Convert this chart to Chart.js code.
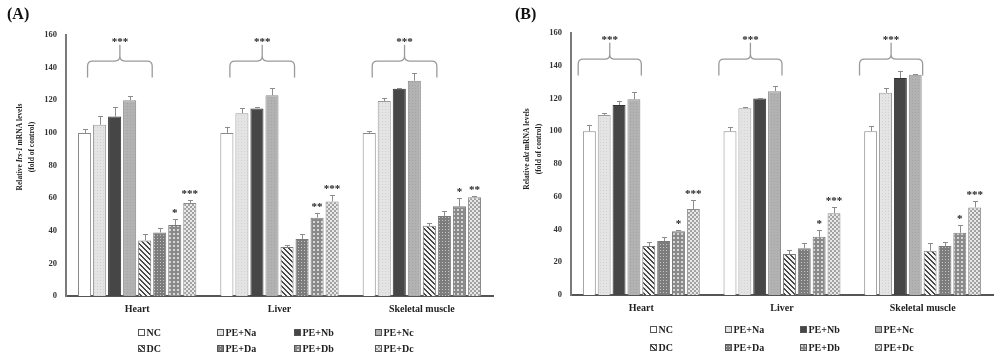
<!DOCTYPE html>
<html><head><meta charset="utf-8">
<script src="https://cdn.jsdelivr.net/npm/chart.js@4.4.1/dist/chart.umd.min.js"></script>
<style>
html,body{margin:0;padding:0;background:#fff;}
#wrap{position:relative;width:1000px;height:357px;overflow:hidden;}
.panel{position:absolute;top:0;width:500px;height:357px;}
</style></head><body>
<div id="wrap">
<div class="panel" style="left:0"><canvas id="cA"></canvas></div>
<div class="panel" style="left:500px"><canvas id="cB"></canvas></div>
</div>
<script>
// ---------- DATA ----------
const categories = ['Heart', 'Liver', 'Skeletal muscle'];
const seriesNames = ['NC', 'PE+Na', 'PE+Nb', 'PE+Nc', 'DC', 'PE+Da', 'PE+Db', 'PE+Dc'];
const yTickValues = [0, 20, 40, 60, 80, 100, 120, 140, 160];

// Panel A: Irs-1 (mean, upper error)
const irsNC = [100, 100, 100];      const irsNCerr = [2.5, 3.5, 1.0];
const irsNa = [105, 112, 119.5];    const irsNaErr = [5.5, 3.5, 1.8];
const irsNb = [110, 115, 127];      const irsNbErr = [6.0, 0.6, 0.7];
const irsNc = [120, 123, 132];      const irsNcErr = [2.7, 4.5, 4.6];
const irsDC = [34, 30, 43];         const irsDCerr = [4.0, 1.0, 1.6];
const irsDa = [39, 35, 49];         const irsDaErr = [2.5, 3.0, 3.3];
const irsDb = [43.5, 48, 55];       const irsDbErr = [4.0, 3.0, 5.3];
const irsDc = [57, 58, 60.5];       const irsDcErr = [2.0, 4.2, 0.7];
const irsDbStars = ['*', '**', '*'];
const irsDcStars = ['***', '***', '**'];
const irsGroupStars = ['***', '***', '***'];

// Panel B: akt (mean, upper error)
const aktNC = [100, 100, 100];      const aktNCerr = [4.0, 2.6, 3.5];
const aktNa = [110, 114, 123.5];    const aktNaErr = [1.2, 1.1, 3.1];
const aktNb = [116, 120, 132.5];    const aktNbErr = [2.6, 0.5, 4.3];
const aktNc = [119.5, 124.5, 134.5];const aktNcErr = [4.3, 3.1, 0.7];
const aktDC = [30, 25, 27];         const aktDCerr = [2.4, 2.2, 5.0];
const aktDa = [33, 28.5, 30];       const aktDaErr = [2.7, 3.0, 2.3];
const aktDb = [39, 35.5, 38];       const aktDbErr = [1.0, 4.2, 4.5];
const aktDc = [52.5, 50, 53.5];     const aktDcErr = [5.5, 3.5, 4.0];
const aktDbStars = ['*', '*', '*'];
const aktDcStars = ['***', '***', '***'];
const aktGroupStars = ['***', '***', '***'];

// ---------- STYLE ----------
const SERIF = '"Liberation Serif", "Times New Roman", serif';

function pat(w, h, draw) {
  const c = document.createElement('canvas');
  c.width = w; c.height = h;
  const g = c.getContext('2d');
  draw(g);
  return document.createElement('canvas').getContext('2d').createPattern(c, 'repeat');
}
const fills = [
  '#ffffff',
  pat(3, 3, g => { g.fillStyle = '#e4e4e4'; g.fillRect(0,0,3,3); g.fillStyle = '#d2d2d2'; g.fillRect(1,1,1,1); }),
  '#464646',
  pat(3, 3, g => { g.fillStyle = '#b2b2b2'; g.fillRect(0,0,3,3); g.fillStyle = '#a4a4a4'; g.fillRect(1,1,1,1); }),
  pat(5, 5, g => { g.fillStyle = '#f4f4f4'; g.fillRect(0,0,5,5); g.fillStyle = '#484848';
                   for (let i = 0; i < 5; i++) { g.fillRect(i, i, 1, 1); g.fillRect((i+1)%5, i, 1, 1); } }),
  pat(3, 3, g => { g.fillStyle = '#7c7c7c'; g.fillRect(0,0,3,3); g.fillStyle = '#c6c6c6'; g.fillRect(1,1,1,1); }),
  pat(4, 4, g => { g.fillStyle = '#8a8a8a'; g.fillRect(0,0,4,4); g.fillStyle = '#d6d6d6'; g.fillRect(1,1,2,2); }),
  pat(4, 4, g => { g.fillStyle = '#e8e8e8'; g.fillRect(0,0,4,4); g.fillStyle = '#a2a2a2'; g.fillRect(0,0,2,2); g.fillRect(2,2,2,2); })
];
const borders = ['#8a8a8a', '#9a9a9a', '#333333', '#8a8a8a', '#7a7a7a', '#7a7a7a', '#7a7a7a', '#8a8a8a'];

function makeChart(id, cfg) {
  const datasets = cfg.values.map((v, i) => ({
    label: seriesNames[i], data: v,
    backgroundColor: fills[i], borderColor: borders[i], borderWidth: 1,
    categoryPercentage: 0.845, barPercentage: 0.87
  }));
  const extras = {
    id: 'extras',
    afterDatasetsDraw(chart) {
      const ctx = chart.ctx, ys = chart.scales.y;
      ctx.save();
      chart.data.datasets.forEach((ds, di) => {
        const meta = chart.getDatasetMeta(di);
        meta.data.forEach((bar, i) => {
          const v = ds.data[i], e = cfg.errors[di][i];
          const yb = ys.getPixelForValue(v), yt = ys.getPixelForValue(v + e);
          const x = Math.round(bar.x) + 0.5;
          ctx.strokeStyle = '#8c8c8c'; ctx.lineWidth = 1;
          ctx.beginPath();
          ctx.moveTo(x, yb); ctx.lineTo(x, Math.round(yt) + 0.5);
          ctx.moveTo(x - 2.5, Math.round(yt) + 0.5); ctx.lineTo(x + 2.5, Math.round(yt) + 0.5);
          ctx.stroke();
          const s = cfg.stars[di] ? cfg.stars[di][i] : '';
          if (s) {
            ctx.fillStyle = '#1e1e1e'; ctx.font = 'bold 11px ' + SERIF;
            ctx.textAlign = 'center'; ctx.textBaseline = 'alphabetic';
            ctx.fillText(s, bar.x, yt - 3);
          }
        });
      });
      const m0 = chart.getDatasetMeta(0), m1 = chart.getDatasetMeta(1);
      categories.forEach((c, i) => {
        const c0 = m0.data[i].x, pitch = m1.data[i].x - c0;
        const x1 = c0 + cfg.braceStart * pitch, x2 = c0 + cfg.braceEnd * pitch, xm = (x1 + x2) / 2;
        const yTop = ys.getPixelForValue(144), yEnd = ys.getPixelForValue(134);
        const yTip = ys.getPixelForValue(154), r = 5;
        ctx.strokeStyle = '#9a9a9a'; ctx.lineWidth = 1.3;
        ctx.beginPath();
        ctx.moveTo(x1, yEnd); ctx.lineTo(x1, yTop + r);
        ctx.quadraticCurveTo(x1, yTop, x1 + r, yTop);
        ctx.lineTo(xm - r, yTop);
        ctx.quadraticCurveTo(xm, yTop, xm, yTop - r);
        ctx.lineTo(xm, yTip);
        ctx.moveTo(xm, yTop - r);
        ctx.quadraticCurveTo(xm, yTop, xm + r, yTop);
        ctx.lineTo(x2 - r, yTop);
        ctx.quadraticCurveTo(x2, yTop, x2, yTop + r);
        ctx.lineTo(x2, yEnd);
        ctx.stroke();
        ctx.fillStyle = '#1e1e1e'; ctx.font = 'bold 11px ' + SERIF;
        ctx.textAlign = 'center'; ctx.textBaseline = 'alphabetic';
        ctx.fillText(cfg.groupStars[i], xm, ys.getPixelForValue(154));
      });
      ctx.restore();
    },
    afterDraw(chart) {
      const ctx = chart.ctx, area = chart.chartArea;
      ctx.save();
      ctx.fillStyle = '#111'; ctx.font = 'bold 16px ' + SERIF;
      ctx.textAlign = 'left'; ctx.textBaseline = 'alphabetic';
      ctx.fillText(cfg.panel, cfg.panelX, 19);
      const yc = cfg.titleY;
      const parts = cfg.titleParts;
      const fN = 'bold 7.5px ' + SERIF, fI = 'italic bold 7.5px ' + SERIF;
      ctx.save();
      ctx.translate(cfg.titleX1, yc); ctx.rotate(-Math.PI / 2);
      let tw = 0;
      parts.forEach(p => { ctx.font = p[1] ? fI : fN; tw += ctx.measureText(p[0]).width; });
      let x = -tw / 2;
      ctx.textBaseline = 'middle'; ctx.textAlign = 'left'; ctx.fillStyle = '#222';
      parts.forEach(p => { ctx.font = p[1] ? fI : fN; ctx.fillText(p[0], x, 0); x += ctx.measureText(p[0]).width; });
      ctx.restore();
      ctx.save();
      ctx.translate(cfg.titleX2, yc); ctx.rotate(-Math.PI / 2);
      ctx.font = fN; ctx.textAlign = 'center'; ctx.textBaseline = 'middle'; ctx.fillStyle = '#222';
      ctx.fillText('(fold of control)', 0, 0);
      ctx.restore();
      const cx = (area.left + area.right) / 2;
      ctx.font = 'bold 10px ' + SERIF; ctx.textBaseline = 'middle'; ctx.textAlign = 'left';
      seriesNames.forEach((n, i) => {
        const row = Math.floor(i / 4), col = i % 4;
        const bx = Math.round(cx + cfg.legendCols[col]) + 0.5;
        const by = Math.round(area.bottom + cfg.legendRows[row]) + 0.5;
        ctx.fillStyle = fills[i];
        ctx.fillRect(bx, by - 3, 6, 6);
        ctx.strokeStyle = '#555'; ctx.lineWidth = 1;
        ctx.strokeRect(bx, by - 3, 6, 6);
        ctx.fillStyle = '#222';
        ctx.fillText(n, bx + 8, by + 0.5);
      });
      ctx.restore();
    }
  };
  return new Chart(document.getElementById(id), {
    type: 'bar',
    data: { labels: categories, datasets },
    options: {
      responsive: true, maintainAspectRatio: false, animation: false,
      layout: { padding: { top: cfg.top, right: 7, left: 0, bottom: 0 } },
      plugins: { legend: { display: false }, tooltip: { enabled: false } },
      scales: {
        x: {
          grid: { display: false, drawTicks: false },
          border: { display: true, color: '#555', width: 2 },
          ticks: { color: '#222', font: { family: SERIF, size: 10, weight: 'bold' }, padding: 7 },
          afterFit: s => { s.height = 357 - cfg.bottom; }
        },
        y: {
          min: 0, max: 160,
          grid: { display: false, drawTicks: false },
          border: { display: true, color: '#7a7a7a', width: 2 },
          ticks: { color: '#333', font: { family: SERIF, size: 8.5, weight: 'bold' }, padding: 9 },
          afterBuildTicks: s => { s.ticks = yTickValues.map(v => ({ value: v })); },
          afterFit: s => { s.width = cfg.left; }
        }
      }
    },
    plugins: [extras]
  });
}

makeChart('cA', {
  panel: '(A)', panelX: 7,
  values: [irsNC, irsNa, irsNb, irsNc, irsDC, irsDa, irsDb, irsDc],
  errors: [irsNCerr, irsNaErr, irsNbErr, irsNcErr, irsDCerr, irsDaErr, irsDbErr, irsDcErr],
  stars: { 6: irsDbStars, 7: irsDcStars },
  groupStars: irsGroupStars,
  titleParts: [['Relative ', false], ['Irs-1', true], [' mRNA levels', false]],
  titleX1: 20, titleX2: 32, titleY: 147,
  left: 66, top: 35, bottom: 296,
  braceStart: 0.2, braceEnd: 4.5,
  legendCols: [-142, -62.5, 14.5, 95.5], legendRows: [36, 52]
});
makeChart('cB', {
  panel: '(B)', panelX: 15,
  values: [aktNC, aktNa, aktNb, aktNc, aktDC, aktDa, aktDb, aktDc],
  errors: [aktNCerr, aktNaErr, aktNbErr, aktNcErr, aktDCerr, aktDaErr, aktDbErr, aktDcErr],
  stars: { 6: aktDbStars, 7: aktDcStars },
  groupStars: aktGroupStars,
  titleParts: [['Relative ', false], ['akt', true], [' mRNA levels', false]],
  titleX1: 27, titleX2: 39, titleY: 149,
  left: 71, top: 33, bottom: 295,
  braceStart: -0.75, braceEnd: 3.5,
  legendCols: [-132, -57, 18, 93], legendRows: [34, 52]
});
</script>
</body></html>
